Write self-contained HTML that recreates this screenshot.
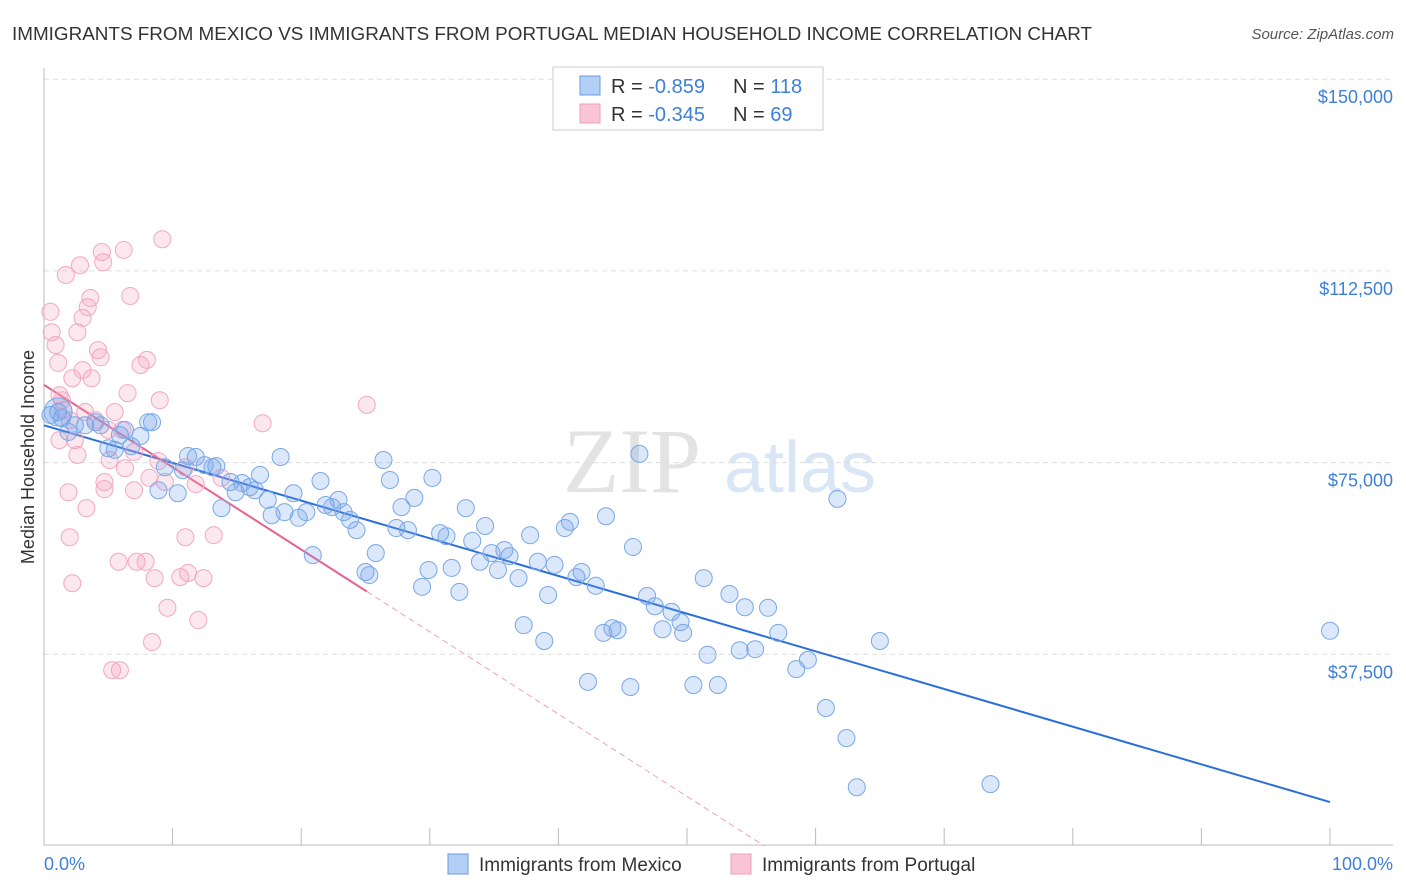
<!DOCTYPE html>
<html><head><meta charset="utf-8"><style>
body{margin:0;background:#fff;font-family:"Liberation Sans",sans-serif;}
#wrap{position:relative;width:1406px;height:892px;overflow:hidden;}
</style></head><body>
<div id="wrap">
<svg id="chart" width="1406" height="892" xmlns="http://www.w3.org/2000/svg">
<text x="12" y="40" font-size="18" fill="#333" font-family="Liberation Sans" textLength="1080" lengthAdjust="spacingAndGlyphs">IMMIGRANTS FROM MEXICO VS IMMIGRANTS FROM PORTUGAL MEDIAN HOUSEHOLD INCOME CORRELATION CHART</text>
<text x="1394" y="39" font-size="15" fill="#555" text-anchor="end" font-style="italic">Source: ZipAtlas.com</text>
<text x="34" y="457" font-size="18" fill="#333" text-anchor="middle" transform="rotate(-90 34 457)">Median Household Income</text>
<g><text x="632" y="492" font-size="92" fill="#ddd" text-anchor="middle" font-family="Liberation Serif" opacity="0.8">ZIP</text><text x="800" y="492" font-size="72" fill="#cfe0f3" text-anchor="middle" opacity="0.8">atlas</text></g>
<g id="grid"></g><g id="axes"></g><g id="lines"></g><g id="pts"></g>
<g>
<rect x="553" y="67" width="270" height="63" fill="#fff" stroke="#ccc"/>
<rect x="580" y="76" width="20" height="19" fill="#b4cff5" stroke="#6a9de0"/>
<rect x="580" y="104" width="20" height="19" fill="#f9c4d5" stroke="#f0a0b8"/>
<text x="611" y="93" font-size="20" fill="#333">R = <tspan fill="#3d7fd9">-0.859</tspan></text>
<text x="733" y="93" font-size="20" fill="#333">N = <tspan fill="#3d7fd9">118</tspan></text>
<text x="611" y="121" font-size="20" fill="#333">R = <tspan fill="#3d7fd9">-0.345</tspan></text>
<text x="733" y="121" font-size="20" fill="#333">N = <tspan fill="#3d7fd9"> 69</tspan></text>
</g>
<g>
<rect x="448" y="854" width="20" height="20" fill="#b4cff5" stroke="#6a9de0"/>
<text x="479" y="871" font-size="19" fill="#333">Immigrants from Mexico</text>
<rect x="731" y="854" width="20" height="20" fill="#f9c4d5" stroke="#f0a0b8"/>
<text x="762" y="871" font-size="19" fill="#333">Immigrants from Portugal</text>
</g>
<text x="44" y="870" font-size="18" fill="#3d7fd9">0.0%</text>
<text x="1393" y="870" font-size="18" fill="#3d7fd9" text-anchor="end">100.0%</text>
</svg></div>
<script>
const yTicks=[37500,75000,112500,150000];
const yTickLabels=["$37,500","$75,000","$112,500","$150,000"];
const xTicks=[0,10,20,30,40,50,60,70,80,90,100];
const mexX=[0.5,1.1,1.4,1.9,2.4,3.2,4.0,4.4,5.0,5.5,5.9,6.3,6.8,7.5,8.1,8.4,8.9,9.4,10.4,10.8,11.2,11.8,12.5,13.1,13.4,13.8,14.5,14.9,15.4,16.0,16.4,16.8,17.4,17.7,18.4,18.7,19.4,19.8,20.4,20.9,21.5,21.9,22.4,22.9,23.3,23.8,24.3,25.0,25.3,25.8,26.4,26.9,27.4,27.8,28.3,28.8,29.4,29.9,30.2,30.8,31.3,31.7,32.3,32.8,33.3,33.9,34.3,34.8,35.3,35.8,36.2,36.9,37.3,37.8,38.4,38.9,39.2,39.7,40.5,40.9,41.4,41.8,42.3,42.9,43.5,43.7,44.2,44.6,45.6,45.8,46.3,46.9,47.5,48.1,48.8,49.5,49.7,50.5,51.3,51.6,52.4,53.3,54.1,54.5,55.3,56.3,57.1,58.5,59.4,60.8,61.7,62.4,63.2,65.0,73.6,100];
const mexY=[84.3,84.9,83.7,81.0,82.3,82.3,82.9,82.3,77.8,77.5,80.4,81.4,78.2,80.2,82.9,82.9,69.6,74.1,69.0,73.5,76.3,76.1,74.5,74.1,74.3,66.1,71.2,69.2,71.0,70.2,69.6,72.6,67.7,64.7,76.1,65.3,69.0,64.2,65.3,56.9,71.4,66.7,66.3,67.7,65.3,63.8,61.8,53.6,53.0,57.3,75.5,71.6,62.2,66.3,61.8,68.1,50.7,54.0,72.0,61.2,60.6,54.4,49.7,66.1,59.7,55.6,62.6,57.3,54.0,57.9,56.7,52.4,43.2,60.8,55.6,40.1,49.1,55.0,62.2,63.4,52.6,53.6,32.1,50.9,41.7,64.5,42.6,42.2,31.1,58.5,76.7,48.9,46.9,42.4,45.8,43.8,41.7,31.5,52.4,37.4,31.5,49.3,38.3,46.7,38.5,46.6,41.7,34.6,36.4,27.0,67.9,21.1,11.5,40.1,12.1,42.1];
const porX=[0.5,0.6,0.9,1.1,1.2,1.4,1.5,1.7,1.9,2.0,2.2,2.2,2.4,2.6,2.6,2.8,3.0,3.0,3.3,3.4,3.6,3.7,4.0,4.2,4.4,4.5,4.6,4.7,4.7,5.0,5.3,5.5,5.8,5.9,6.1,6.2,6.3,6.5,6.7,7.0,7.2,7.5,7.9,8.0,8.2,8.4,8.6,8.9,9.0,9.2,9.4,9.6,10.6,11.0,11.2,11.8,12.0,12.4,13.2,13.8,17.0,25.1,11.0,2.0,1.2,5.1,3.2,7.0];
const porY=[104.5,100.5,98.0,94.5,88.2,87.2,85.3,111.7,69.2,60.4,51.4,91.5,79.4,100.5,76.5,113.6,103.3,93.1,66.1,105.4,107.2,91.5,83.3,97.0,95.6,116.2,114.2,71.2,69.8,81.4,34.4,84.9,55.6,34.4,81.4,116.6,73.9,88.6,107.6,69.6,55.6,94.1,55.6,95.1,72.0,39.9,52.4,75.3,87.2,118.7,71.2,46.6,52.6,74.1,53.4,70.8,44.2,52.4,60.8,72.0,82.7,86.3,60.4,83.3,79.4,75.5,84.9,77.1];
const mexTrend=[82.3,-0.737];
const porTrend=[90.2,-1.61];
const X0=44,X1=1330,YB=846,PXK=191.7/37.5;
const sx=p=>X0+p*(X1-X0)/100;
const sy=k=>YB-k*PXK;
const NS="http://www.w3.org/2000/svg";
function mk(tag,attrs,parent){const e=document.createElementNS(NS,tag);for(const k in attrs)e.setAttribute(k,attrs[k]);document.getElementById(parent).appendChild(e);return e;}
yTicks.forEach((t,i)=>{const y=sy(t/1000);
const g=mk('line',{x1:44,x2:1393,y1:y,y2:y,stroke:'#ddd','stroke-dasharray':'5,4'},'grid');


const tx=mk('text',{x:1393,y:y+24,'font-size':18,fill:'#3d7fd9','text-anchor':'end'},'axes');tx.textContent=yTickLabels[i];

});
const ax=mk('line',{x1:44,x2:1393,y1:845,y2:845,stroke:'#bbb'},'axes');


const ay=mk('line',{x1:44,x2:44,y1:68,y2:845,stroke:'#bbb'},'axes');


xTicks.forEach(t=>{const x=sx(t);const l=mk('line',{x1:x,x2:x,y1:828,y2:845,stroke:'#bbb'},'axes');

});
function pts(xs,ys,fill,stroke,name){xs.forEach((x,i)=>{const c=mk('circle',{cx:sx(x),cy:sy(ys[i]),r:8.5,fill:fill,stroke:stroke,'stroke-width':1},'pts');

});}
pts(porX,porY,'rgba(245,160,188,0.25)','#f2a8c0','point-portugal');
pts(mexX,mexY,'rgba(110,160,235,0.25)','#7aa8e6','point-mexico');
const big=mk('circle',{cx:sx(mexX[1]),cy:sy(mexY[1]),r:14,fill:'rgba(110,160,235,0.3)',stroke:'#7aa8e6'},'pts');


const ml=mk('line',{x1:sx(0),y1:sy(mexTrend[0]),x2:sx(100),y2:sy(mexTrend[0]+100*mexTrend[1]),stroke:'#2a6fd8','stroke-width':2},'lines');


const pEnd=Math.max(...porX);
const pl=mk('line',{x1:sx(0),y1:sy(porTrend[0]),x2:sx(pEnd),y2:sy(porTrend[0]+pEnd*porTrend[1]),stroke:'#e8628f','stroke-width':2},'lines');


const z=-porTrend[0]/porTrend[1];
const pd=mk('line',{x1:sx(pEnd),y1:sy(porTrend[0]+pEnd*porTrend[1]),x2:sx(z),y2:sy(0),stroke:'#f0a0b8','stroke-width':1,'stroke-dasharray':'6,4'},'lines');


</script>
</body></html>
